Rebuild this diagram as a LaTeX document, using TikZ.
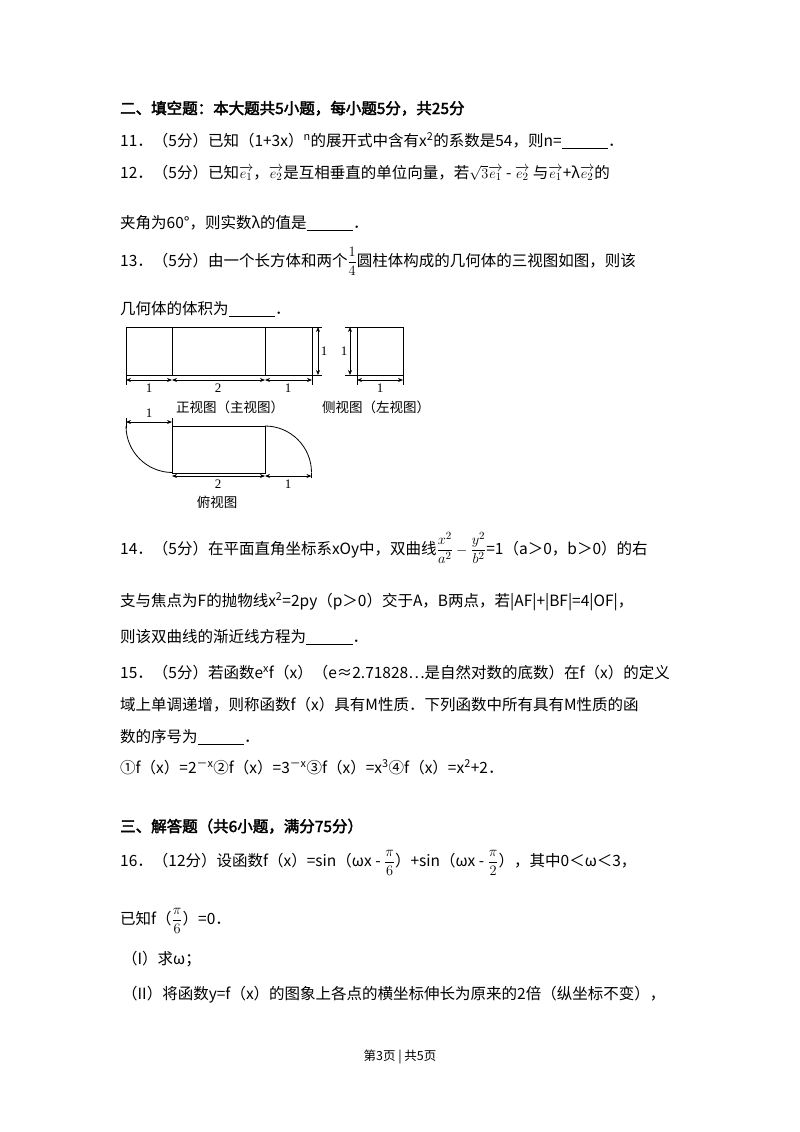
\documentclass[tikz,border=0pt]{standalone}
\usepackage{amsmath}
\usepackage{fontspec}
\usetikzlibrary{arrows.meta}
\setmainfont{Noto Sans CJK SC}[AutoFakeBold=2.5]
\newfontfamily\tnr{Liberation Serif}
\begin{document}
\begin{tikzpicture}[x=1pt,y=-1pt,
  ln/.style={anchor=base west,inner sep=0pt,font=\fontsize{15.5}{18}\selectfont},
  dim/.style={<->,>={Stealth[length=5pt,width=4pt]},line width=0.8pt},
  fig/.style={line width=0.8pt},
  num/.style={inner sep=0pt,font=\tnr\fontsize{13}{14}\selectfont},
  captxt/.style={inner sep=0pt,font=\fontsize{13.5}{15}\selectfont}]
\useasboundingbox (0,0) rectangle (800,1132);
\fill[white] (0,0) rectangle (800,1132);
\node[ln] (h2) at (120,114) {\textbf{二、填空题：本大题共5小题，每小题5分，共25分}};
\node[ln] (q11) at (120,146) {11．（5分）已知（1+3x）\textsuperscript{n}的展开式中含有x\textsuperscript{2}的系数是54，则n=\underline{\hspace{3em}}．};
\node[ln] (q12) at (120,178) {12．（5分）已知$\overrightarrow{e_1}$，$\overrightarrow{e_2}$是互相垂直的单位向量，若$\sqrt{3}\overrightarrow{e_1}$ - $\overrightarrow{e_2}$ 与$\overrightarrow{e_1}$+λ$\overrightarrow{e_2}$的};
\node[ln] (q12b) at (120,228) {夹角为60°，则实数λ的值是\underline{\hspace{3em}}．};
\node[ln] (q13) at (120,266) {13．（5分）由一个长方体和两个$\dfrac{1}{4}$圆柱体构成的几何体的三视图如图，则该};
\node[ln] (q13b) at (120,314) {几何体的体积为\underline{\hspace{3em}}．};
% front view
\draw[fig] (126,327) rectangle (312,375);
\draw[fig] (172,327) -- (172,375) (265,327) -- (265,375);
\coordinate (fa) at (126,380); \coordinate (fb) at (172,380);
\coordinate (fc) at (265,380); \coordinate (fd) at (312,380);
\draw[fig] (126,375) -- (126,385) (312,375) -- (312,385);
\draw[dim] (fa) -- (fb); \draw[dim] (fb) -- (fc); \draw[dim] (fc) -- (fd);
\node[num] (n1) at (149,388) {1}; \node[num] (n2) at (218,388) {2}; \node[num] (n3) at (288,388) {1};
\draw[fig] (312,327) -- (322,327) (312,375) -- (322,375);
\coordinate (fv1) at (318,327); \coordinate (fv2) at (318,375);
\draw[dim] (fv1) -- (fv2);
\node[num] (n4) at (324,351) {1};
\node[captxt] (c1) at (230,407) {正视图（主视图）};
% side view
\draw[fig] (357,327) rectangle (403,375);
\draw[fig] (345,327) -- (357,327) (345,375) -- (357,375) (357,375)--(357,385) (403,375)--(403,385);
\coordinate (sv1) at (350,327); \coordinate (sv2) at (350,375);
\draw[dim] (sv1) -- (sv2);
\node[num] (n5) at (344,351) {1};
\coordinate (sa) at (357,380); \coordinate (sb) at (403,380);
\draw[dim] (sa) -- (sb);
\node[num] (n6) at (380,388) {1};
\node[captxt] (c2) at (376,407) {侧视图（左视图）};
% top view
\draw[fig] (172,426) rectangle (265,473);
\draw[fig] (126,426) arc[start angle=180,end angle=90,radius=46.5];
\draw[fig] (265,426) arc[start angle=-90,end angle=0,radius=46.5];
\draw[fig] (126,418) -- (126,428) (172,418)--(172,426);
\coordinate (ta) at (126,422); \coordinate (tb) at (172,422);
\draw[dim] (ta) -- (tb);
\node[num] (n7) at (149,413) {1};
\draw[fig] (311.5,473) -- (311.5,478);
\coordinate (tc) at (172,476); \coordinate (td) at (265,476); \coordinate (te) at (311.5,476);
\draw[dim] (tc) -- (td); \draw[dim] (td) -- (te);
\node[num] (n8) at (218,484) {2}; \node[num] (n9) at (288,484) {1};
\node[captxt] (c3) at (217,502) {俯视图};
\node[ln] (q14) at (120,554) {14．（5分）在平面直角坐标系xOy中，双曲线$\dfrac{x^2}{a^2}-\dfrac{y^2}{b^2}$=1（a＞0，b＞0）的右};
\node[ln] (q14b) at (120,606) {支与焦点为F的抛物线x\textsuperscript{2}=2py（p＞0）交于A，B两点，若|AF|+|BF|=4|OF|，};
\node[ln] (q14c) at (120,642) {则该双曲线的渐近线方程为\underline{\hspace{3em}}．};
\node[ln] (q15) at (120,678) {15．（5分）若函数e\textsuperscript{x}f（x）（e≈2.71828…是自然对数的底数）在f（x）的定义};
\node[ln] (q15b) at (120,710) {域上单调递增，则称函数f（x）具有M性质．下列函数中所有具有M性质的函};
\node[ln] (q15c) at (120,742) {数的序号为\underline{\hspace{3em}}．};
\node[ln] (q15d) at (120,773) {①f（x）=2\textsuperscript{－x}②f（x）=3\textsuperscript{－x}③f（x）=x\textsuperscript{3}④f（x）=x\textsuperscript{2}+2．};
\node[ln] (h3) at (120,832) {\textbf{三、解答题（共6小题，满分75分）}};
\node[ln] (q16) at (120,866) {16．（12分）设函数f（x）=sin（ωx - $\dfrac{\pi}{6}$）+sin（ωx - $\dfrac{\pi}{2}$），其中0＜ω＜3，};
\node[ln] (q16b) at (120,924) {已知f（$\dfrac{\pi}{6}$）=0．};
\node[ln] (q16c) at (122,964) {（I）求ω；};
\node[ln] (q16d) at (122,999) {（II）将函数y=f（x）的图象上各点的横坐标伸长为原来的2倍（纵坐标不变），};
\node[inner sep=0pt,font=\fontsize{12.5}{14}\selectfont] (ft) at (400,1057) {第3页 | 共5页};
\end{tikzpicture}
\end{document}
